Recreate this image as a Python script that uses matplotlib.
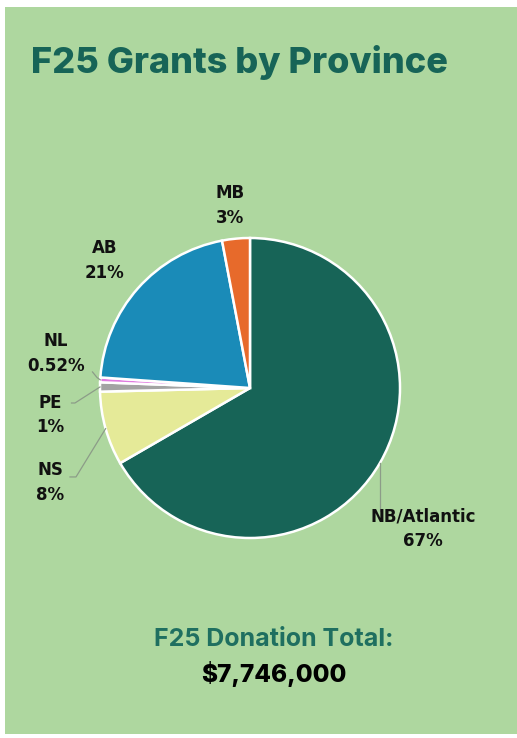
import matplotlib
matplotlib.use('Agg')
import matplotlib.pyplot as plt
from matplotlib.patches import Rectangle
import numpy as np

# data
provinces = ['NB/Atlantic', 'NS', 'PE', 'NL', 'AB', 'MB']
shares = [67.0, 8.0, 1.0, 0.52, 21.0, 3.0]
pct_text = ['67%', '8%', '1%', '0.52%', '21%', '3%']
colors = ['#176457', '#E5EA98', '#A3A3A3', '#E07BE0', '#1A8BB8', '#E76A2B']
total_text = '$7,746,000'

bg = '#AED79F'
dark = '#176457'

fig = plt.figure(figsize=(5.17, 7.38), dpi=100)
fig.patch.set_facecolor('white')
# green panel
fig.add_artist(Rectangle((5/517, 4/738), 512/517, 727/738, transform=fig.transFigure,
                         facecolor=bg, edgecolor='none', zorder=0))

fig.text(31/517, 1 - 62/738, 'F25 Grants by Province', family='Inter', weight='heavy',
         fontsize=26, color=dark, va='center', ha='left')

ax = fig.add_axes([100/517, 1 - 538/738, 300/517, 300/738])
wedges, _ = ax.pie(shares, colors=colors, startangle=90, counterclock=False, radius=1,
                   wedgeprops=dict(edgecolor='white', linewidth=1.8))
ax.set_xlim(-1, 1)
ax.set_ylim(-1, 1)
ax.set_aspect('equal')
ax.axis('off')

# label positions (data coords of the pie axes)
label_pos = {
    'NB/Atlantic': (1.153, -0.94),
    'NS': (-1.333, -0.633),
    'PE': (-1.333, -0.18),
    'NL': (-1.293, 0.233),
    'AB': (-0.967, 0.853),
    'MB': (-0.133, 1.22),
}
for name, pct in zip(provinces, pct_text):
    x, y = label_pos[name]
    ax.text(x, y, name + '\n' + pct, ha='center', va='center', fontsize=12,
            weight='bold', family='DejaVu Sans', color='#111111', linespacing=1.5,
            clip_on=False)

def edge_point(w):
    ang = np.deg2rad((w.theta1 + w.theta2) / 2)
    return np.cos(ang), np.sin(ang)

line_kw = dict(color='#8C9C88', linewidth=0.9, clip_on=False)
# NB/Atlantic leader
px, py = edge_point(wedges[0])
ax.plot([px, px], [py, -0.82], **line_kw)
# NS leader
px, py = edge_point(wedges[1])
ax.plot([-1.2, -1.16, px], [-0.593, -0.593, py], **line_kw)
# PE leader
px, py = edge_point(wedges[2])
ax.plot([-1.19, -1.167, px], [-0.1, -0.1, py], **line_kw)
# NL leader
px, py = edge_point(wedges[3])
ax.plot([-1.05, -1.02, px], [0.107, 0.07, py], **line_kw)

fig.text(274/517, 1 - 639/738, 'F25 Donation Total:', family='Inter', weight='bold',
         fontsize=18, color='#1F6F60', ha='center', va='center')
fig.text(274/517, 1 - 674/738, total_text, family='Inter', weight='heavy',
         fontsize=17.5, color='black', ha='center', va='center')

fig.savefig('out.png', dpi=100, facecolor=fig.get_facecolor())
